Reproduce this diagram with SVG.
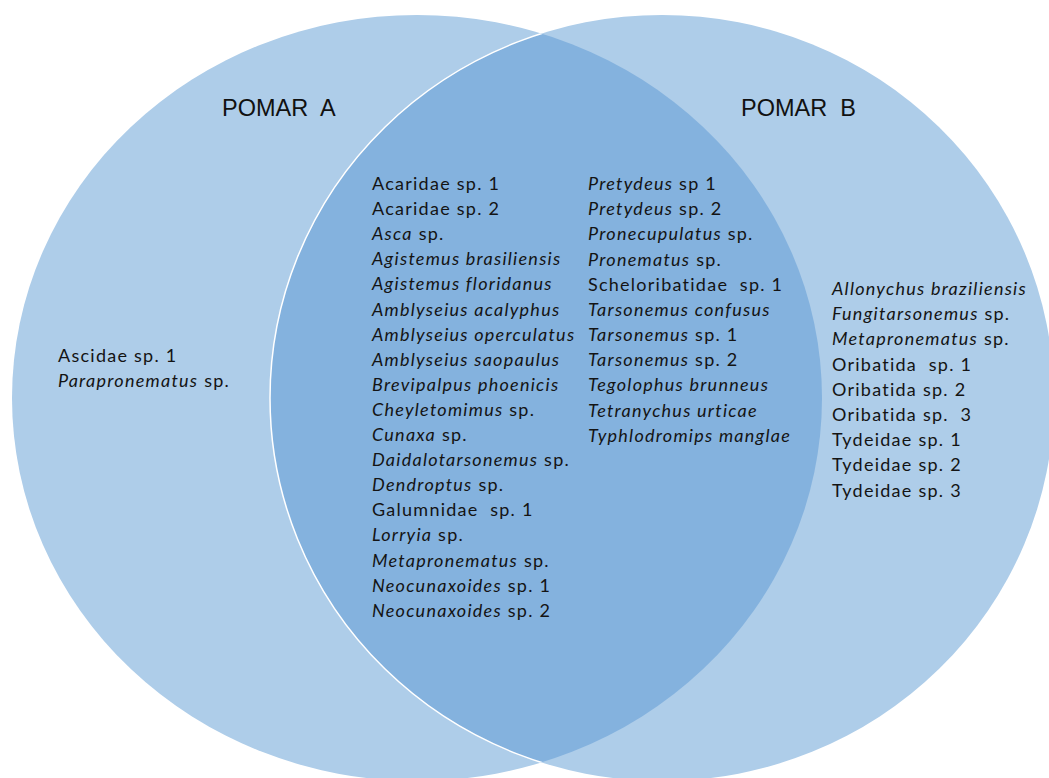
<svg xmlns="http://www.w3.org/2000/svg" width="1049" height="778" viewBox="0 0 1049 778">
<style>
.bg{fill:#ffffff}
.set{fill:#AECDE9}
.lens{fill:#84B2DE}
.edge{fill:none;stroke:#ffffff;stroke-width:1.5}
.title{font-family:"Liberation Sans",Arial,sans-serif;font-size:23.5px;fill:#111111;white-space:pre}
.sp{font-family:Lato,"Open Sans",sans-serif;font-size:18px;letter-spacing:1.25px;fill:#141414;white-space:pre}
.i{font-style:italic}
</style>
<defs>
<clipPath id="clipA"><ellipse cx="417" cy="398" rx="405" ry="383"/></clipPath>
</defs>
<rect class="bg" x="0" y="0" width="1049" height="778"/>
<g id="pomar-a-set">
<ellipse class="set" cx="417" cy="398" rx="405" ry="383"/>
</g>
<g id="pomar-b-set">
<ellipse class="set" cx="662" cy="398" rx="392" ry="383"/>
</g>
<g id="intersection">
<ellipse class="lens" cx="662" cy="398" rx="392" ry="383" clip-path="url(#clipA)"/>
<ellipse class="edge" cx="662" cy="398" rx="392" ry="383" clip-path="url(#clipA)"/>
</g>
<g id="label-a">
<text class="title" x="222" y="116">POMAR  A</text>
</g>
<g id="label-b">
<text class="title" x="741" y="116">POMAR  B</text>
</g>
<g id="only-a">
<text class="sp" x="58" y="362">Ascidae sp. 1</text>
<text class="sp" x="58" y="387"><tspan class="i">Parapronematus</tspan> sp.</text>
</g>
<g id="shared-col1">
<text class="sp" x="372" y="190">Acaridae sp. 1</text>
<text class="sp" x="372" y="215.1">Acaridae sp. 2</text>
<text class="sp" x="372" y="240.2"><tspan class="i">Asca</tspan> sp.</text>
<text class="sp i" x="372" y="265.3">Agistemus brasiliensis</text>
<text class="sp i" x="372" y="290.4">Agistemus floridanus</text>
<text class="sp i" x="372" y="315.5">Amblyseius acalyphus</text>
<text class="sp i" x="372" y="340.6">Amblyseius operculatus</text>
<text class="sp i" x="372" y="365.7">Amblyseius saopaulus</text>
<text class="sp i" x="372" y="390.8">Brevipalpus phoenicis</text>
<text class="sp" x="372" y="415.9"><tspan class="i">Cheyletomimus</tspan> sp.</text>
<text class="sp" x="372" y="441"><tspan class="i">Cunaxa</tspan> sp.</text>
<text class="sp" x="372" y="466.1"><tspan class="i">Daidalotarsonemus</tspan> sp.</text>
<text class="sp" x="372" y="491.2"><tspan class="i">Dendroptus</tspan> sp.</text>
<text class="sp" x="372" y="516.3">Galumnidae  sp. 1</text>
<text class="sp" x="372" y="541.4"><tspan class="i">Lorryia</tspan> sp.</text>
<text class="sp" x="372" y="566.5"><tspan class="i">Metapronematus</tspan> sp.</text>
<text class="sp" x="372" y="591.6"><tspan class="i">Neocunaxoides</tspan> sp. 1</text>
<text class="sp" x="372" y="616.7"><tspan class="i">Neocunaxoides</tspan> sp. 2</text>
</g>
<g id="shared-col2">
<text class="sp" x="588" y="190"><tspan class="i">Pretydeus</tspan> sp 1</text>
<text class="sp" x="588" y="215.2"><tspan class="i">Pretydeus</tspan> sp. 2</text>
<text class="sp" x="588" y="240.3"><tspan class="i">Pronecupulatus</tspan> sp.</text>
<text class="sp" x="588" y="265.5"><tspan class="i">Pronematus</tspan> sp.</text>
<text class="sp" x="588" y="290.7">Scheloribatidae  sp. 1</text>
<text class="sp i" x="588" y="315.9">Tarsonemus confusus</text>
<text class="sp" x="588" y="341"><tspan class="i">Tarsonemus</tspan> sp. 1</text>
<text class="sp" x="588" y="366.2"><tspan class="i">Tarsonemus</tspan> sp. 2</text>
<text class="sp i" x="588" y="391.4">Tegolophus brunneus</text>
<text class="sp i" x="588" y="416.5">Tetranychus urticae</text>
<text class="sp i" x="588" y="441.7">Typhlodromips manglae</text>
</g>
<g id="only-b">
<text class="sp i" x="832" y="295">Allonychus braziliensis</text>
<text class="sp" x="832" y="320.2"><tspan class="i">Fungitarsonemus</tspan> sp.</text>
<text class="sp" x="832" y="345.4"><tspan class="i">Metapronematus</tspan> sp.</text>
<text class="sp" x="832" y="370.6">Oribatida  sp. 1</text>
<text class="sp" x="832" y="395.8">Oribatida sp. 2</text>
<text class="sp" x="832" y="421">Oribatida sp.  3</text>
<text class="sp" x="832" y="446.2">Tydeidae sp. 1</text>
<text class="sp" x="832" y="471.4">Tydeidae sp. 2</text>
<text class="sp" x="832" y="496.6">Tydeidae sp. 3</text>
</g>
</svg>
